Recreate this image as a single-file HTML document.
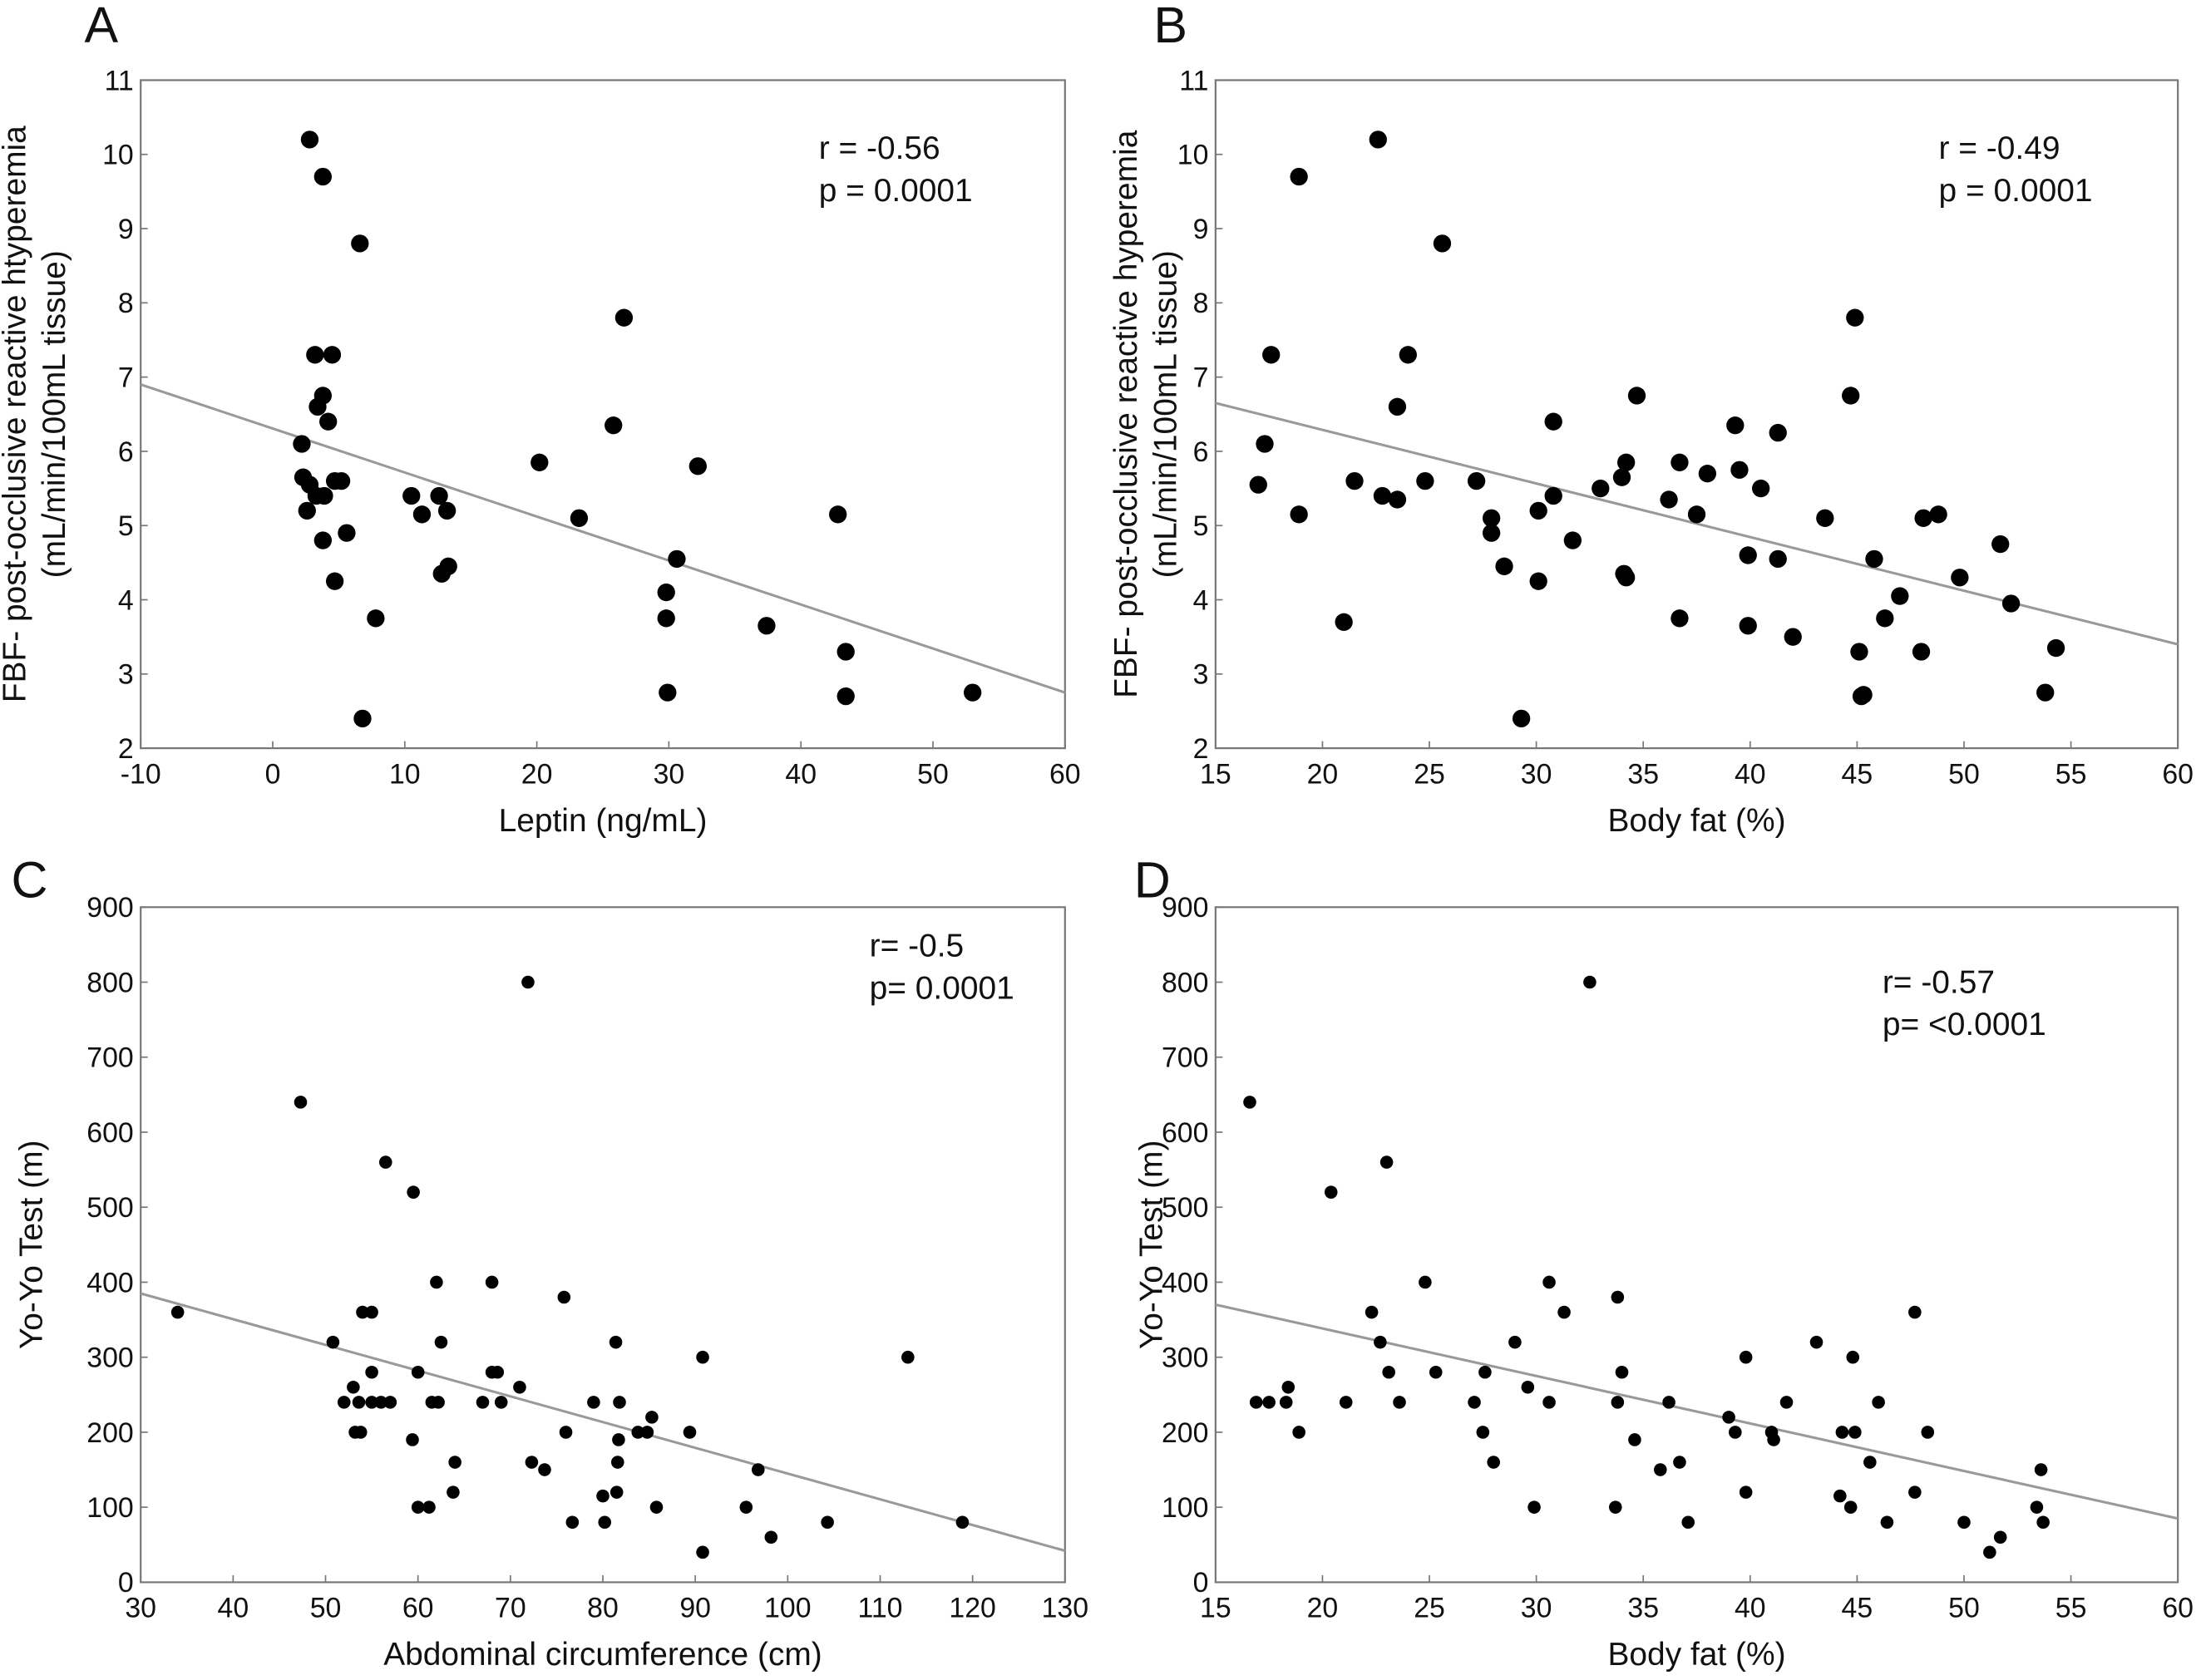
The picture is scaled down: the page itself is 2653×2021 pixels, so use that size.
<!DOCTYPE html>
<html><head><meta charset="utf-8"><style>
html,body{margin:0;padding:0;background:#fff}
svg{display:block}
text{font-family:"Liberation Sans",Arial,sans-serif;fill:#111}
</style></head><body>
<svg id="chart" width="2653" height="2021" viewBox="0 0 1568 1194.5" preserveAspectRatio="none" xmlns="http://www.w3.org/2000/svg"></svg>
<script>
// Panel A: leptin vs FBF
const aX=[2.8,3.8,6.6,3.2,4.5,26.6,3.8,3.4,4.2,25.8,2.2,20.2,32.2,2.3,4.7,5.2,2.8,3.3,3.9,10.5,12.6,2.6,11.3,13.2,23.2,42.8,5.6,3.8,30.6,13.3,12.8,4.7,29.8,7.8,29.8,37.4,43.4,29.9,43.4,53,6.8];
const aY=[10.2,9.7,8.8,7.3,7.3,7.8,6.75,6.6,6.4,6.35,6.1,5.85,5.8,5.65,5.6,5.6,5.55,5.4,5.4,5.4,5.4,5.2,5.15,5.2,5.1,5.15,4.9,4.8,4.55,4.45,4.35,4.25,4.1,3.75,3.75,3.65,3.3,2.75,2.7,2.75,2.4];
const aFit=[6.9,2.75];
// Panel B: body fat vs FBF
const bX=[22.6,18.9,25.6,17.6,24,44.9,34.7,44.7,23.5,30.8,39.3,41.3,17.3,34.2,36.7,39.5,38,34,21.5,24.8,27.2,17,33,40.5,22.8,23.5,30.8,36.2,30.1,18.9,37.5,27.9,43.5,48.1,48.8,27.9,31.7,51.7,28.5,41.3,45.8,39.9,34.1,34.2,49.8,30.1,47,52.2,36.7,46.3,21,39.9,42,45.1,48,54.3,45.2,45.3,53.8,29.3];
const bY=[10.2,9.7,8.8,7.3,7.3,7.8,6.75,6.75,6.6,6.4,6.35,6.25,6.1,5.85,5.85,5.75,5.7,5.65,5.6,5.6,5.6,5.55,5.5,5.5,5.4,5.35,5.4,5.35,5.2,5.15,5.15,5.1,5.1,5.1,5.15,4.9,4.8,4.75,4.45,4.55,4.55,4.6,4.35,4.3,4.3,4.25,4.05,3.95,3.75,3.75,3.7,3.65,3.5,3.3,3.3,3.35,2.7,2.72,2.75,2.4];
const bFit=[6.65,3.4];
// Panel C: abdominal circumference vs Yo-Yo
const cX=[34,47.3,71.9,56.5,59.5,62,68,75.8,54,55,50.8,62.5,81.4,90.8,113,53,55,60,68,68.6,71,52,53.6,55,56,57,61.5,62.2,67,69,79,81.8,85.3,53.2,53.8,76,83.8,84.8,89.4,59.4,81.7,72.3,64,81.6,73.7,96.8,63.8,80,81.5,60,61.2,85.8,95.5,76.7,80.2,104.3,118.9,98.2,90.8];
const cY=[360,640,800,560,520,400,400,380,360,360,320,320,320,300,300,260,280,280,280,280,260,240,240,240,240,240,240,240,240,240,240,240,220,200,200,200,200,200,200,190,190,160,160,160,150,150,120,115,120,100,100,100,100,80,80,80,80,60,40];
const cFit=[385,42];
// Panel D: body fat vs Yo-Yo
const dX=[16.6,32.5,23,20.4,24.8,30.6,33.8,22.3,31.3,47.7,22.7,29,43.1,39.8,44.8,16.9,17.5,18.4,18.3,21.1,23.6,23.1,25.3,27.6,29.6,30.6,34,36.2,33.8,41.7,46,27.1,18.9,27.5,39,39.3,41,41.1,44.3,44.9,48.3,34.6,28,35.8,36.7,45.6,39.8,47.7,33.7,29.9,44.2,44.7,53.6,53.4,37.1,46.4,50,53.7,51.7,51.2];
const dY=[640,800,560,520,400,400,380,360,360,360,320,320,320,300,300,240,240,260,240,240,240,280,280,280,260,240,280,240,240,240,240,240,200,200,220,200,200,190,200,200,200,190,160,150,160,160,120,120,100,100,115,100,150,100,80,80,80,80,60,40];
const dFit=[370,85];
const ticksFBF=[2,3,4,5,6,7,8,9,10,11];
const ticksYoYo=[0,100,200,300,400,500,600,700,800,900];
const ticksLeptin=[-10,0,10,20,30,40,50,60];
const ticksFat=[15,20,25,30,35,40,45,50,55,60];
const ticksAbd=[30,40,50,60,70,80,90,100,110,120,130];

const NS="http://www.w3.org/2000/svg";
const svg=document.getElementById('chart');
function el(tag,attrs,parent,txt){const e=document.createElementNS(NS,tag);for(const k in attrs)e.setAttribute(k,attrs[k]);if(txt!==undefined)e.textContent=txt;(parent||svg).appendChild(e);return e;}

function panel(cfg){
  const g=el('g',{});
  
  
  const sx=v=>cfg.x0+(v-cfg.xmin)/(cfg.xmax-cfg.xmin)*(cfg.x1-cfg.x0);
  const sy=v=>cfg.y1-(v-cfg.ymin)/(cfg.ymax-cfg.ymin)*(cfg.y1-cfg.y0);
  const box=el('rect',{x:cfg.x0,y:cfg.y0,width:cfg.x1-cfg.x0,height:cfg.y1-cfg.y0,fill:'none',stroke:'#777','stroke-width':1.3},g);
  
  
  cfg.xt.forEach(v=>{
    el('line',{x1:sx(v),x2:sx(v),y1:cfg.y1,y2:cfg.y1-5,stroke:'#777'},g);
    const t=el('text',{x:sx(v),y:cfg.y1+25,'text-anchor':'middle','font-size':20},g,v);
    
    
  });
  cfg.yt.forEach(v=>{
    el('line',{x1:cfg.x0,x2:cfg.x0+5,y1:sy(v),y2:sy(v),stroke:'#777'},g);
    const t=el('text',{x:cfg.x0-5,y:sy(v)+7,'text-anchor':'end','font-size':20},g,v);
    
    
  });
  const fl=el('line',{x1:sx(cfg.xmin),y1:sy(cfg.fit[0]),x2:sx(cfg.xmax),y2:sy(cfg.fit[1]),stroke:'#999','stroke-width':1.8},g);
  
  
  cfg.xs.forEach((v,i)=>{
    const c=el('circle',{cx:sx(v),cy:sy(cfg.ys[i]),r:cfg.r,fill:'#000'},g);
    
    
  });
  const L=el('text',{x:cfg.lx,y:cfg.ly,'font-size':36},g,cfg.id);
  
  
  const xt=el('text',{x:(cfg.x0+cfg.x1)/2,y:cfg.y1+59,'text-anchor':'middle','font-size':23},g,cfg.xtitle);
  
  
  const cy=(cfg.y0+cfg.y1)/2;
  cfg.ytitle.forEach((line,i)=>{
    const yt=el('text',{x:cfg.ytx+i*28,y:cy,'text-anchor':'middle','font-size':23,transform:`rotate(-90 ${cfg.ytx+i*28} ${cy})`},g,line);
    
    
  });
  cfg.stats.forEach((s,i)=>{
    const st=el('text',{x:cfg.sx,y:cfg.sy+i*30,'font-size':23},g,s);
    
    
  });
}
panel({id:'A',x0:100,x1:757,y0:57,y1:532,xmin:-10,xmax:60,ymin:2,ymax:11,xt:ticksLeptin,yt:ticksFBF,xs:aX,ys:aY,fit:aFit,r:6.3,lx:60,ly:30,xtitle:'Leptin (ng/mL)',ytitle:['FBF- post-occlusive reactive htyperemia','(mL/min/100mL tissue)'],ytx:18,stats:['r = -0.56','p = 0.0001'],sx:582,sy:113});
panel({id:'B',x0:864,x1:1548,y0:57,y1:532,xmin:15,xmax:60,ymin:2,ymax:11,xt:ticksFat,yt:ticksFBF,xs:bX,ys:bY,fit:bFit,r:6.3,lx:820,ly:30,xtitle:'Body fat (%)',ytitle:['FBF- post-occlusive reactive hyperemia','(mL/min/100mL tissue)'],ytx:808,stats:['r = -0.49','p = 0.0001'],sx:1378,sy:113});
panel({id:'C',x0:100,x1:757,y0:645,y1:1125,xmin:30,xmax:130,ymin:0,ymax:900,xt:ticksAbd,yt:ticksYoYo,xs:cX,ys:cY,fit:cFit,r:4.6,lx:8,ly:638,xtitle:'Abdominal circumference (cm)',ytitle:['Yo-Yo Test (m)'],ytx:30,stats:['r= -0.5','p= 0.0001'],sx:618,sy:680});
panel({id:'D',x0:864,x1:1548,y0:645,y1:1125,xmin:15,xmax:60,ymin:0,ymax:900,xt:ticksFat,yt:ticksYoYo,xs:dX,ys:dY,fit:dFit,r:4.6,lx:806,ly:638,xtitle:'Body fat (%)',ytitle:['Yo-Yo Test (m)'],ytx:826,stats:['r= -0.57','p= <0.0001'],sx:1338,sy:706});
</script>
</body></html>
